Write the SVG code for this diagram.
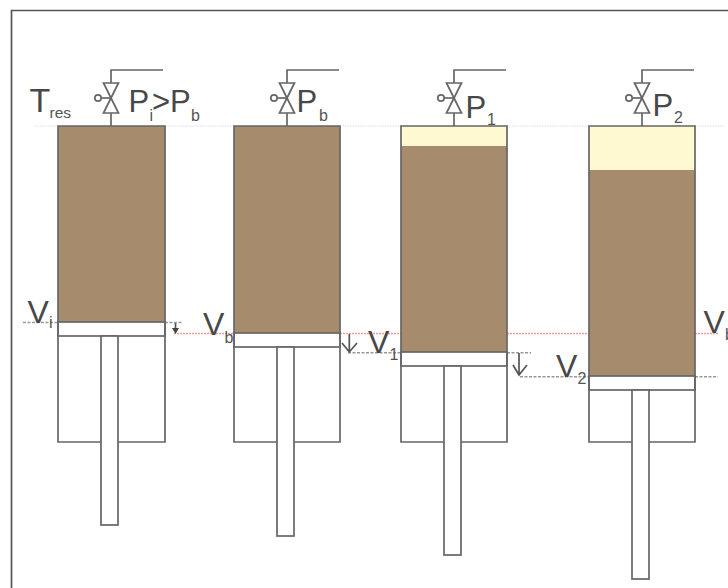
<svg xmlns="http://www.w3.org/2000/svg" width="728" height="588" viewBox="0 0 728 588">
<style>
.s{fill:none;stroke:#666;stroke-width:1.7}
.w{fill:#fff;stroke:#666;stroke-width:1.7}
.b{fill:#a68b6d;stroke:none}
.g{fill:#fff9d2;stroke:none}
.t{font-family:"Liberation Sans",Arial,sans-serif;fill:#484848;font-size:31px}
.v{font-family:"Liberation Sans",Arial,sans-serif;fill:#484848;font-size:32px}
.u{font-family:"Liberation Sans",Arial,sans-serif;fill:#555;font-size:16px}
.red{stroke:#f29a9a;stroke-width:1.5;stroke-dasharray:2 1;fill:none}
.dash{stroke:#999;stroke-width:1.4;stroke-dasharray:3 1.5;fill:none}
.top{stroke:#ddd;stroke-width:1;stroke-dasharray:1.5 1;fill:none}
.ar{stroke:#555;stroke-width:1.7;fill:none}
</style>
<defs>
<g id="valve">
<path class="s" d="M0 0V-13M0 -43V-56H52"/>
<path class="s" d="M-7.500 -43H7.500L-7.500 -13H7.500Z"/>
<path class="s" d="M0 -28H-10"/>
<circle class="s" cx="-13" cy="-28" r="3.200"/>
</g>
</defs>
<rect x="0" y="0" width="728" height="588" fill="#fff"/>
<path d="M11.500 588V10.500H728" fill="none" stroke="#555" stroke-width="1.700"/>
<g id="connectors">
<path class="top" d="M35 126H58M165 126H234M340 126H401M507 126H589M695 126H724"/>
<path class="red" d="M174 333.500H234M340 333.500H401M507 333.500H589M695 333.500H718"/>
<path class="dash" d="M23 322.500H58M165 322.500H182M348 352.700H401M507 352.700H531M520 376.700H589M695 376.700H718"/>
<path class="ar" d="M175.500 323V330M349.300 334V352M342 343L349.300 352L357 343M519 353V375M513 365L519 375L527 365"/>
<path d="M172 328H179L175.500 334Z" fill="#444"/>
</g>
<g id="cylinder-1">
<rect class="b" x="58" y="126" width="107" height="196"/>
<rect class="w" x="58" y="322" width="107" height="14"/>
<path class="s" d="M58 126H165V442H58Z"/>
<rect class="w" x="101" y="336" width="17" height="189"/>
<use href="#valve" x="111" y="126"/>
</g>
<g id="cylinder-2">
<rect class="b" x="234" y="126" width="106" height="207"/>
<rect class="w" x="234" y="333" width="106" height="14"/>
<path class="s" d="M234 126H340V442H234Z"/>
<rect class="w" x="277" y="347" width="17" height="189"/>
<use href="#valve" x="287" y="126"/>
</g>
<g id="cylinder-3">
<rect class="g" x="401" y="126" width="106" height="20"/>
<rect class="b" x="401" y="146" width="106" height="206"/>
<rect class="w" x="401" y="352" width="106" height="14"/>
<path class="s" d="M401 126H507V442H401Z"/>
<rect class="w" x="444" y="366" width="17" height="189"/>
<use href="#valve" x="454" y="126"/>
</g>
<g id="cylinder-4">
<rect class="g" x="589" y="126" width="106" height="44"/>
<rect class="b" x="589" y="170" width="106" height="206"/>
<rect class="w" x="589" y="376" width="106" height="14"/>
<path class="s" d="M589 126H695V442H589Z"/>
<rect class="w" x="632" y="390" width="17" height="189"/>
<use href="#valve" x="642" y="126"/>
</g>
<g id="labels">
<text class="t" x="29.500" y="112" style="font-size:34px">T</text><text class="u" x="49.500" y="118" style="font-size:15.500px">res</text>
<text class="t" x="128.500" y="112">P</text><text class="u" x="149.500" y="121">i</text><text class="t" x="152" y="112">&gt;P</text><text class="u" x="191" y="121">b</text>
<text class="t" x="296.500" y="112">P</text><text class="u" x="319" y="121">b</text>
<text class="t" x="465.500" y="118">P</text><text class="u" x="487" y="125">1</text>
<text class="t" x="652.500" y="116">P</text><text class="u" x="674" y="123">2</text>
<text class="v" x="27.500" y="322.500">V</text><text class="u" x="49" y="328">i</text>
<text class="v" x="203" y="335">V</text><text class="u" x="224.500" y="343">b</text>
<text class="v" x="368" y="353">V</text><text class="u" x="389.500" y="360">1</text>
<text class="v" x="556" y="377">V</text><text class="u" x="577.500" y="384">2</text>
<text class="v" x="703.500" y="333">V</text><text class="u" x="725" y="340">b</text>
</g>
</svg>
